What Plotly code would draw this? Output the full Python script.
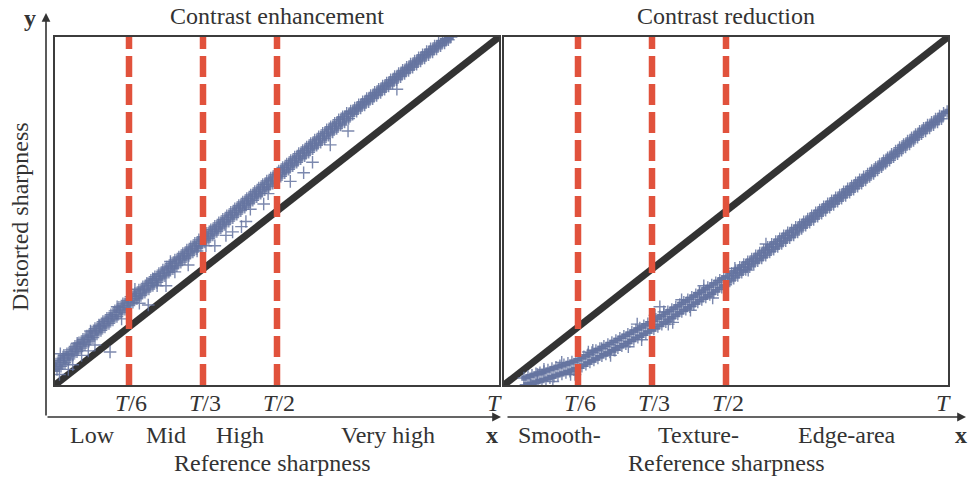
import plotly.graph_objects as go

# ---------------- data (T normalised to 1) ----------------
thresholds = [1/6, 1/3, 1/2]
threshold_labels = ["<i>T</i>/6", "<i>T</i>/3", "<i>T</i>/2"]
end_label = "<i>T</i>"

left_title = "Contrast enhancement"
right_title = "Contrast reduction"
left_regions = ["Low", "Mid", "High", "Very high"]
left_region_bounds = [0, 1/6, 1/3, 1/2, 1]
right_regions = ["Smooth-", "Texture-", "Edge-area"]
right_region_x = [0.126, 0.437, 0.773]

# Contrast enhancement: distorted vs reference sharpness (dense band)
left_x = [0.000,0.0045,0.009,0.0135,0.018,0.0225,0.027,0.0315,0.036,0.0405,0.045,0.0495,0.054,0.0585,0.063,0.0675,0.072,0.0765,0.081,0.0855,0.090,0.0945,0.099,0.1035,0.108,0.1125,0.117,0.1215,0.126,0.1305,0.135,0.1395,0.144,0.1485,0.153,0.1575,0.162,0.1665,
          0.171,0.1755,0.180,0.1845,0.189,0.1935,0.198,0.2025,0.207,0.2115,0.216,0.2205,0.225,0.2295,0.234,0.2385,0.243,0.2475,0.252,0.2565,0.261,0.2655,0.270,0.2745,0.279,0.2835,0.288,0.2925,0.297,0.3015,0.306,0.3105,0.315,0.3195,0.324,0.3285,
          0.333,0.3375,0.342,0.3465,0.351,0.3555,0.360,0.3645,0.369,0.3735,0.378,0.3825,0.387,0.3915,0.396,0.4005,0.405,0.4095,0.414,0.4185,0.423,0.4275,0.432,0.4365,0.441,0.4455,0.450,0.4545,0.459,0.4635,0.468,0.4725,0.477,0.4815,0.486,0.4905,0.495,0.4995,
          0.504,0.5085,0.513,0.5175,0.522,0.5265,0.531,0.5355,0.540,0.5445,0.549,0.5535,0.558,0.5625,0.567,0.5715,0.576,0.5805,0.585,0.5895,0.594,0.5985,0.603,0.6075,0.612,0.6165,0.621,0.6255,0.630,0.6345,0.639,0.6435,0.648,0.6525,0.657,0.6615,
          0.666,0.6705,0.675,0.6795,0.684,0.6885,0.693,0.6975,0.702,0.7065,0.711,0.7155,0.720,0.7245,0.729,0.7335,0.738,0.7425,0.747,0.7515,0.756,0.7605,0.765,0.7695,0.774,0.7785,0.783,0.7875,0.792,0.7965,0.801,0.8055,0.810,0.8145,0.819,0.8235,0.828,0.8325,0.837,0.8415,0.846,0.8505,0.855,0.8595,0.864,0.8685,0.873,0.8775,0.882,0.886,0.892]
left_y = [0.060,0.045,0.070,0.054,0.080,0.064,0.090,0.075,0.101,0.086,0.111,0.096,0.121,0.106,0.131,0.116,0.141,0.126,0.152,0.136,0.162,0.147,0.172,0.157,0.182,0.167,0.192,0.177,0.202,0.187,0.213,0.197,0.223,0.208,0.233,0.218,0.243,0.228,
          0.254,0.238,0.263,0.248,0.273,0.257,0.282,0.267,0.292,0.276,0.301,0.286,0.311,0.295,0.320,0.305,0.330,0.314,0.339,0.324,0.349,0.334,0.359,0.343,0.368,0.353,0.378,0.363,0.388,0.372,0.397,0.382,0.407,0.392,0.417,0.401,
          0.426,0.411,0.436,0.421,0.446,0.431,0.456,0.441,0.466,0.451,0.476,0.461,0.486,0.471,0.496,0.481,0.506,0.491,0.516,0.501,0.526,0.511,0.536,0.521,0.546,0.531,0.556,0.541,0.566,0.551,0.576,0.561,0.586,0.570,0.595,0.580,0.605,0.589,
          0.615,0.600,0.625,0.610,0.635,0.620,0.645,0.630,0.655,0.640,0.665,0.650,0.674,0.659,0.684,0.669,0.694,0.679,0.704,0.689,0.713,0.698,0.723,0.708,0.733,0.718,0.742,0.727,0.752,0.737,0.762,0.747,0.771,0.756,0.781,0.766,
          0.787,0.778,0.796,0.787,0.805,0.796,0.814,0.805,0.823,0.814,0.832,0.823,0.841,0.832,0.850,0.841,0.859,0.850,0.868,0.859,0.877,0.868,0.886,0.877,0.895,0.886,0.904,0.895,0.913,0.904,0.922,0.913,0.931,0.922,0.940,0.931,0.949,0.940,0.958,0.949,0.966,0.957,0.974,0.966,0.983,0.975,0.990,0.983,0.995,0.992,1.000]
# scattered points off the band
left_out_x = [0.010,0.030,0.020,0.050,0.124,0.210,0.250,0.300,0.360,0.385,0.400,0.420,0.430,0.470,0.530,0.560,0.580,0.620,0.660,0.770,0.012,0.040,0.075,
              0.080,0.100,0.140,0.180,0.220,0.260,0.150,0.190,0.230,0.270,0.320,0.340,0.440,0.480,0.060,0.090]
left_out_y = [0.030,0.045,0.085,0.120,0.095,0.230,0.285,0.345,0.400,0.430,0.440,0.455,0.470,0.520,0.585,0.610,0.640,0.690,0.730,0.850,0.090,0.058,0.098,
              0.155,0.170,0.225,0.275,0.305,0.355,0.190,0.235,0.285,0.325,0.385,0.400,0.505,0.550,0.085,0.115]

# Contrast reduction (dense band)
right_x = [0.045,0.0495,0.054,0.0585,0.063,0.0675,0.072,0.0765,0.081,0.0855,0.090,0.0945,0.099,0.1035,0.108,0.1125,0.117,0.1215,0.126,0.1305,0.135,0.1395,0.144,0.1485,0.153,0.1575,0.162,0.1665,
           0.171,0.1755,0.180,0.1845,0.189,0.1935,0.198,0.2025,0.207,0.2115,0.216,0.2205,0.225,0.2295,0.234,0.2385,0.243,0.2475,0.252,0.2565,0.261,0.2655,0.270,0.2745,0.279,0.2835,0.288,0.2925,0.297,0.3015,0.306,0.3105,0.315,0.3195,0.324,0.3285,
           0.333,0.3375,0.342,0.3465,0.351,0.3555,0.360,0.3645,0.369,0.3735,0.378,0.3825,0.387,0.3915,0.396,0.4005,0.405,0.4095,0.414,0.4185,0.423,0.4275,0.432,0.4365,0.441,0.4455,0.450,0.4545,0.459,0.4635,0.468,0.4725,0.477,0.4815,0.486,0.4905,0.495,0.4995,
           0.504,0.5085,0.513,0.5175,0.522,0.5265,0.531,0.5355,0.540,0.5445,0.549,0.5535,0.558,0.5625,0.567,0.5715,0.576,0.5805,0.585,0.5895,0.594,0.5985,0.603,0.6075,0.612,0.6165,0.621,0.6255,0.630,0.6345,0.639,0.6435,0.648,0.6525,0.657,0.6615,
           0.666,0.6705,0.675,0.6795,0.684,0.6885,0.693,0.6975,0.702,0.7065,0.711,0.7155,0.720,0.7245,0.729,0.7335,0.738,0.7425,0.747,0.7515,0.756,0.7605,0.765,0.7695,0.774,0.7785,0.783,0.7875,0.792,0.7965,0.801,0.8055,0.810,0.8145,
           0.819,0.8235,0.828,0.8325,0.837,0.8415,0.846,0.8505,0.855,0.8595,0.864,0.8685,0.873,0.8775,0.882,0.8865,0.891,0.8955,0.900,0.9045,0.909,0.9135,0.918,0.9225,0.927,0.9315,0.936,0.9405,
           0.945,0.9495,0.954,0.9585,0.963,0.9675,0.972,0.9765,0.981,0.9855,0.990,0.998]
right_y = [0.020,0.001,0.024,0.002,0.028,0.006,0.032,0.010,0.035,0.013,0.039,0.017,0.043,0.021,0.047,0.025,0.051,0.029,0.055,0.032,0.058,0.036,0.062,0.040,0.066,0.044,0.070,0.048,
           0.075,0.054,0.081,0.060,0.087,0.066,0.093,0.072,0.099,0.078,0.105,0.084,0.111,0.089,0.116,0.095,0.122,0.101,0.128,0.107,0.134,0.113,0.140,0.119,0.146,0.125,0.152,0.131,0.158,0.137,0.164,0.143,0.170,0.149,0.176,0.155,
           0.182,0.161,0.189,0.168,0.196,0.175,0.203,0.182,0.210,0.190,0.217,0.197,0.224,0.204,0.231,0.211,0.238,0.218,0.245,0.225,0.252,0.232,0.259,0.239,0.266,0.246,0.273,0.253,0.280,0.260,0.287,0.267,0.294,0.274,0.301,0.281,0.308,0.288,
           0.313,0.299,0.321,0.307,0.329,0.315,0.338,0.324,0.346,0.332,0.354,0.340,0.362,0.349,0.371,0.357,0.379,0.365,0.387,0.373,0.396,0.382,0.404,0.390,0.412,0.398,0.420,0.407,0.429,0.415,0.437,0.423,0.445,0.431,0.453,0.440,
           0.460,0.450,0.469,0.459,0.477,0.468,0.486,0.476,0.495,0.485,0.503,0.494,0.512,0.502,0.521,0.511,0.529,0.519,0.538,0.528,0.546,0.537,0.555,0.545,0.564,0.554,0.572,0.563,0.581,0.571,0.590,0.580,0.598,0.589,
           0.606,0.599,0.616,0.608,0.625,0.618,0.635,0.627,0.644,0.637,0.653,0.646,0.663,0.656,0.672,0.665,0.682,0.675,0.691,0.684,0.701,0.693,0.710,0.703,0.720,0.712,0.729,0.722,
           0.738,0.730,0.747,0.739,0.755,0.748,0.764,0.756,0.773,0.765,0.781,0.786]
right_out_x = [0.060,0.075,0.220,0.300,0.340,0.351,0.370,0.400,0.420,0.450,0.590,0.250,0.150,0.110,0.190,0.280,
               0.090,0.130,0.160,0.200,0.240,0.310,0.360,0.380,0.440,0.470,0.520,0.550]
right_out_y = [0.000,0.030,0.105,0.175,0.200,0.225,0.175,0.245,0.215,0.285,0.405,0.100,0.030,0.010,0.095,0.110,
               0.045,0.065,0.030,0.100,0.085,0.130,0.210,0.180,0.265,0.250,0.335,0.330]

identity_x = [0, 1]
identity_y = [0, 1]

# ---------------- styling ----------------
W, H = 968, 481
FONT = "Liberation Serif, Times New Roman, serif"
TXT = "#333333"
SC = "#6574A0"
RED = "#E1523C"
LINE = "#333333"

def px(x):
    return x / W

def py(y):
    return 1 - y / H

fig = go.Figure()

panels = [("x", "y", left_x, left_y, left_out_x, left_out_y),
          ("x2", "y2", right_x, right_y, right_out_x, right_out_y)]
for xa, ya, sx, sy, ox, oy in panels:
    fig.add_trace(go.Scatter(x=identity_x, y=identity_y, mode="lines", xaxis=xa, yaxis=ya,
                             line=dict(color=LINE, width=7), showlegend=False, hoverinfo="skip"))
    # dense core of the point cloud
    fig.add_trace(go.Scatter(x=sx, y=sy, mode="markers", xaxis=xa, yaxis=ya, showlegend=False,
                             marker=dict(symbol="square", size=5.5, color=SC, opacity=0.9,
                                         line=dict(width=0)), hoverinfo="skip"))
    fig.add_trace(go.Scatter(x=sx + ox, y=sy + oy, mode="markers", xaxis=xa, yaxis=ya, showlegend=False,
                             marker=dict(symbol="cross-thin", size=9, opacity=0.85,
                                         line=dict(color=SC, width=1.4))))
    for t in thresholds:
        fig.add_trace(go.Scatter(x=[t, t], y=[0, 1], mode="lines", xaxis=xa, yaxis=ya, showlegend=False,
                                 line=dict(color=RED, width=6.5, dash="21px,7px"), hoverinfo="skip"))

axis_common = dict(range=[0, 1], showgrid=False, zeroline=False, showticklabels=False, ticks="",
                   showline=True, mirror=True, linecolor="#3c3c3c", linewidth=1.5, fixedrange=True)
ydom = [py(385), py(37)]
fig.update_layout(
    width=W, height=H, margin=dict(l=0, r=0, t=0, b=0),
    paper_bgcolor="white", plot_bgcolor="white",
    xaxis=dict(domain=[px(55), px(499)], anchor="y", **axis_common),
    yaxis=dict(domain=ydom, anchor="x", **axis_common),
    xaxis2=dict(domain=[px(504), px(948)], anchor="y2", **axis_common),
    yaxis2=dict(domain=ydom, anchor="x2", **axis_common),
    font=dict(family=FONT, size=24, color=TXT),
)

ann = []
def text(x, y, s, xref="paper", size=24, bold=False, angle=0, xshift=0):
    ann.append(dict(x=x, y=y, xref=xref, yref="paper", text=("<b>%s</b>" % s) if bold else s,
                    showarrow=False, xanchor="center", yanchor="middle", textangle=angle, xshift=xshift,
                    font=dict(family=FONT, size=size, color=TXT)))

# titles
text(px(277), py(16), left_title)
text(px(726), py(16), right_title)
# threshold tick labels
for xr in ["x", "x2"]:
    for t, lab in zip(thresholds, threshold_labels):
        text(t, py(403), lab, xref=xr, xshift=2)
    text(1, py(403), end_label, xref=xr, xshift=-5)
# region labels
for i, lab in enumerate(left_regions):
    text((left_region_bounds[i] + left_region_bounds[i + 1]) / 2, py(435), lab, xref="x")
for xv, lab in zip(right_region_x, right_regions):
    text(xv, py(435), lab, xref="x2")
text(px(272), py(463), "Reference sharpness")
text(px(726), py(463), "Reference sharpness")
text(px(20), py(217), "Distorted sharpness", angle=-90)
text(px(492), py(435), "x", bold=True)
text(px(961), py(435), "x", bold=True)
text(px(30), py(18), "y", bold=True)

# axis arrows (head at x1,y1; tail offset in pixels)
def arrow(x0, y0, x1, y1):
    ann.append(dict(x=px(x1), y=py(y1), ax=x0 - x1, ay=y0 - y1, xref="paper", yref="paper",
                    axref="pixel", ayref="pixel", text="", showarrow=True,
                    arrowhead=2, arrowsize=1.1, arrowwidth=1.6, arrowcolor="#333333"))

arrow(46, 417, 46, 13)
arrow(46, 417, 501, 417)
arrow(506, 417, 966, 417)

fig.update_layout(annotations=ann)
fig.write_html("out.html")
